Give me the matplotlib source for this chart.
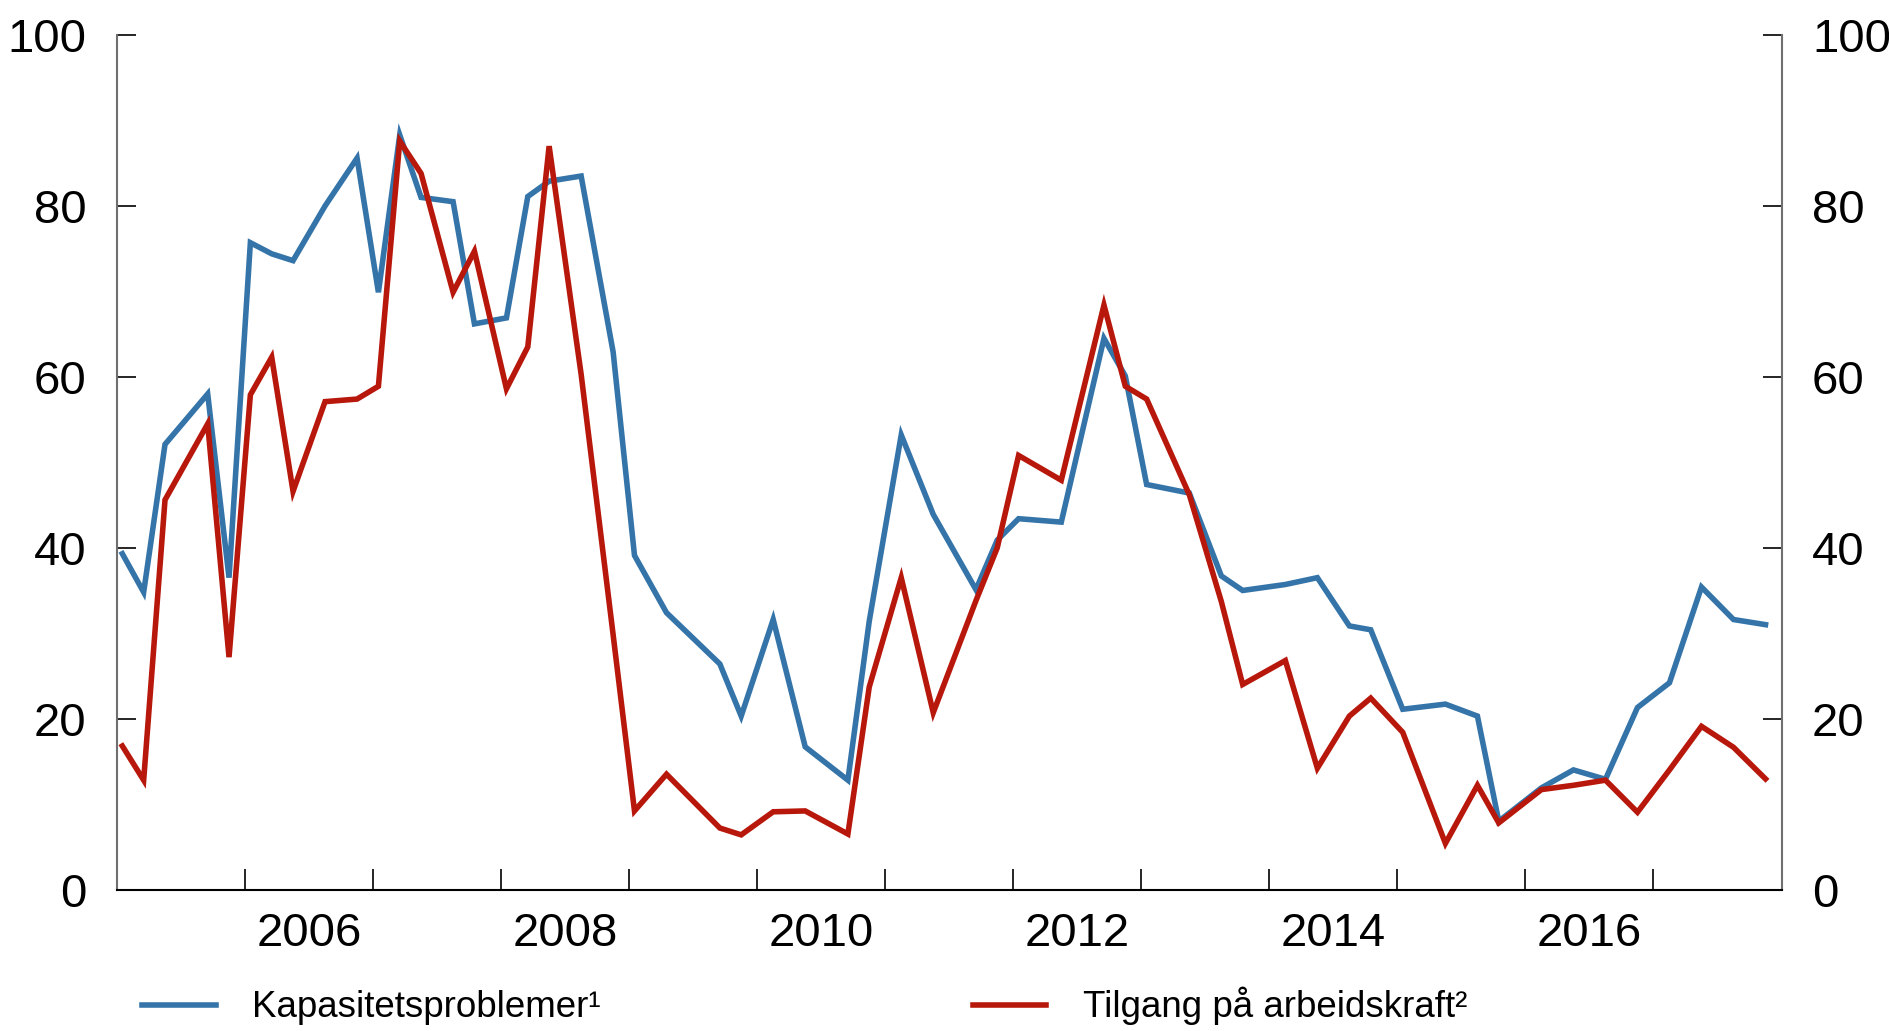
import matplotlib
matplotlib.use("Agg")
import matplotlib.pyplot as plt
from matplotlib.ticker import FixedLocator, NullFormatter

plt.rcParams['font.family'] = ['Liberation Sans', 'DejaVu Sans']

# Survey dates (year, month) of the regional network rounds
dates = [
    (2005, 1), (2005, 3), (2005, 5), (2005, 9), (2005, 11),
    (2006, 1), (2006, 3), (2006, 5), (2006, 8), (2006, 11),
    (2007, 1), (2007, 3), (2007, 5), (2007, 8), (2007, 10),
    (2008, 1), (2008, 3), (2008, 5), (2008, 8), (2008, 11),
    (2009, 1), (2009, 4), (2009, 9), (2009, 11),
    (2010, 2), (2010, 5), (2010, 9), (2010, 11),
    (2011, 2), (2011, 5), (2011, 9), (2011, 11),
    (2012, 1), (2012, 5), (2012, 9), (2012, 11),
    (2013, 1), (2013, 5), (2013, 8), (2013, 10),
    (2014, 2), (2014, 5), (2014, 8), (2014, 10),
    (2015, 1), (2015, 5), (2015, 8), (2015, 10),
    (2016, 2), (2016, 5), (2016, 8), (2016, 11),
    (2017, 2), (2017, 5), (2017, 8), (2017, 11),
]

kapasitet = [
    39.3, 34.8, 52.1, 58.0, 36.5,
    75.7, 74.4, 73.6, 80.0, 85.6,
    69.9, 88.3, 81.0, 80.5, 66.2,
    66.9, 81.1, 82.9, 83.5, 62.9,
    39.1, 32.4, 26.4, 20.3,
    31.6, 16.7, 12.8, 31.4,
    53.2, 43.9, 35.1, 40.9,
    43.4, 43.0, 64.5, 60.1,
    47.4, 46.4, 36.7, 35.0,
    35.7, 36.5, 30.85, 30.4,
    21.1, 21.7, 20.3, 8.0,
    11.9, 14.0, 12.9, 21.3,
    24.2, 35.4, 31.6, 31.0,
]

arbeidskraft = [
    16.8, 12.8, 45.6, 54.5, 27.2,
    57.9, 62.3, 46.6, 57.1, 57.4,
    58.9, 87.6, 83.8, 69.9, 74.7,
    58.6, 63.5, 87.0, 60.3, 29.8,
    9.2, 13.5, 7.2, 6.4,
    9.1, 9.2, 6.5, 23.7,
    36.5, 20.7, 33.8, 40.0,
    50.8, 47.9, 68.4, 58.9,
    57.4, 46.2, 33.7, 24.0,
    26.8, 14.2, 20.3, 22.4,
    18.4, 5.4, 12.2, 7.8,
    11.7, 12.2, 12.8, 9.05,
    14.0, 19.1, 16.65, 12.95,
]

series_labels = ["Kapasitetsproblemer\u00b9", "Tilgang p\u00e5 arbeidskraft\u00b2"]
year_labels = [2006, 2008, 2010, 2012, 2014, 2016]
y_ticks = [0, 20, 40, 60, 80, 100]

x = [y + (m - 0.5) / 12 for (y, m) in dates]

fig = plt.figure(figsize=(18.9, 10.31), dpi=100)
ax = fig.add_axes([0.0619, 0.1372, 0.8807, 0.8288])

blue = '#3474A9'
red = '#B8170B'
l1, = ax.plot(x, kapasitet, color=blue, lw=4.0, solid_joinstyle='miter')
l2, = ax.plot(x, arbeidskraft, color=red, lw=4.0, solid_joinstyle='miter')

ax.set_xlim(2005, 2018)
ax.set_ylim(0, 100)

# x axis: ticks at year boundaries, labels centred in year
ax.xaxis.set_major_locator(FixedLocator(list(range(2006, 2018))))
ax.xaxis.set_major_formatter(NullFormatter())
ax.xaxis.set_minor_locator(FixedLocator([yr + 0.5 for yr in year_labels]))
ax.set_xticklabels([str(yr) for yr in year_labels], minor=True)
ax.tick_params(axis='x', which='major', direction='in', length=15, width=1.2, color='black')
ax.tick_params(axis='x', which='minor', length=0, pad=16, labelsize=34)

ax.set_yticks(y_ticks)
ax.tick_params(axis='y', which='major', direction='in', length=14, width=1.2,
               labelsize=34, pad=22, left=True, right=True,
               labelleft=True, labelright=True)

ax.spines['top'].set_visible(False)
for s in ['left', 'right']:
    ax.spines[s].set_color('#6f6f6f')
    ax.spines[s].set_linewidth(1.5)
ax.spines['bottom'].set_color('black')
ax.spines['bottom'].set_linewidth(1.5)

fig.legend([l1, l2], series_labels, loc='center left', bbox_to_anchor=(0.0751, 0.024),
           ncol=2, frameon=False, fontsize=26.5, handlelength=2.0, handletextpad=1.0,
           columnspacing=10.1, borderpad=0, borderaxespad=0)

fig.savefig('out.png', dpi=100)
